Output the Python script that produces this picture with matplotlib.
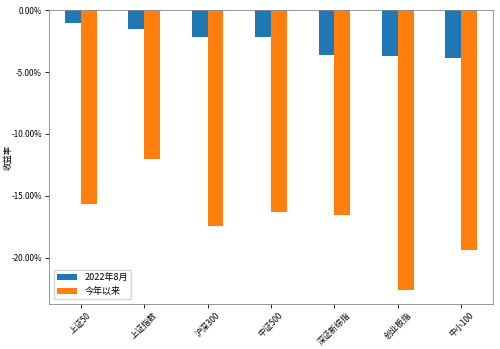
import numpy as np
import matplotlib
matplotlib.use('Agg')
import matplotlib.pyplot as plt
from matplotlib.ticker import FuncFormatter

plt.rcParams['font.family'] = ['Noto Sans CJK SC', 'DejaVu Sans']
plt.rcParams['axes.unicode_minus'] = False

indices = ['上证50', '上证指数', '沪深300', '中证500', '深证新综指', '创业板指', '中小100']
aug_2022 = [-1.05, -1.54, -2.16, -2.16, -3.61, -3.72, -3.83]
ytd = [-15.63, -12.00, -17.41, -16.33, -16.57, -22.60, -19.40]

fig, ax = plt.subplots(figsize=(5.0, 3.49), dpi=100)
x = np.arange(len(indices))
w = 0.25
ax.bar(x - w / 2, aug_2022, w, color='#1f77b4', label='2022年8月')
ax.bar(x + w / 2, ytd, w, color='#ff7f0e', label='今年以来')

ax.set_xlim(-0.5, len(indices) - 0.5)
ax.set_ylim(min(ytd) * 1.05, 0)
ax.yaxis.set_major_formatter(FuncFormatter(lambda v, p: '%.2f%%' % v))
ax.set_xticks(x)
ax.set_xticklabels(indices, rotation=45, fontsize=6)
ax.tick_params(axis='y', labelsize=5.8, length=3, width=0.6, pad=2)
ax.tick_params(axis='x', length=3, width=0.6, pad=2)
ax.set_ylabel('收益率', fontsize=6)
ax.yaxis.set_label_coords(-0.083, 0.5)
for s in ax.spines.values():
    s.set_linewidth(0.6)
    s.set_color('#888888')
ax.legend(loc='lower left', fontsize=6.5, handlelength=2.2)

fig.subplots_adjust(left=0.098, right=0.986, top=0.971, bottom=0.129)
fig.savefig('out.png', dpi=100)
